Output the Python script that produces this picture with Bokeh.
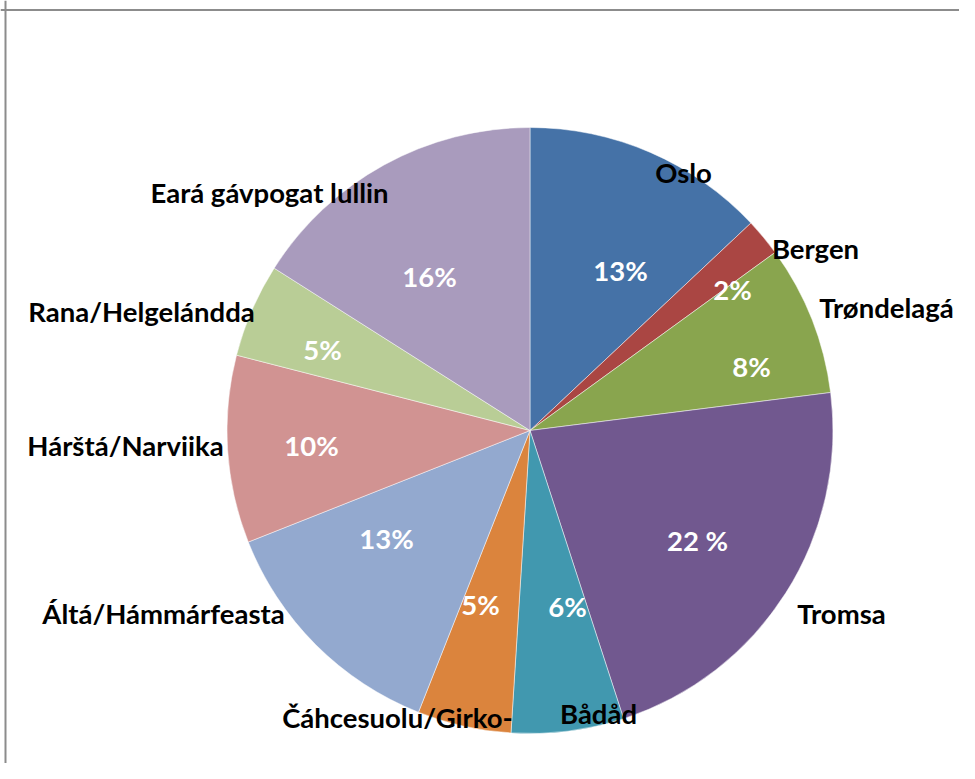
import math
from bokeh.plotting import figure
from bokeh.models import Range1d, Span, ColumnDataSource
from bokeh.core.properties import value
from bokeh.embed import file_html
from bokeh.resources import INLINE

# ---- data ----
categories = ["Oslo", "Bergen", "Trøndelagá", "Tromsa", "Bådåd",
              "Čáhcesuolu/Girko-", "Áltá/Hámmárfeasta", "Hárštá/Narviika",
              "Rana/Helgelándda", "Eará gávpogat lullin"]
shares = [13, 2, 8, 22, 6, 5, 13, 10, 5, 16]
pct_labels = ["13%", "2%", "8%", "22 %", "6%", "5%", "13%", "10%", "5%", "16%"]
colors = ["#4572A7", "#AA4643", "#89A54E", "#71588F", "#4198AF",
          "#DB843D", "#93A9CF", "#D19392", "#B9CD96", "#A99BBD"]

# ---- layout (image pixel coordinates, y downwards) ----
W, H = 959, 763
def py(y):
    return H - y

cx, cy, r = 529.5, py(430), 303
pct_pos = [(620, 270), (732, 289), (751, 366), (697, 540), (567, 606),
           (480, 604), (386, 538), (311, 445), (322, 349), (429, 276)]
cat_pos = [(683, 172), (815, 248), (886, 307), (841, 613), (598, 713),
           (397, 717), (163, 613), (125, 445), (141, 311), (269, 192)]

p = figure(width=W, height=H, output_backend="svg", toolbar_location=None,
           x_range=Range1d(0, W), y_range=Range1d(0, H),
           min_border=0, outline_line_color=None)
p.axis.visible = False
p.grid.visible = False
p.background_fill_color = "white"
p.border_fill_color = "white"

total = sum(shares)
starts, ends = [], []
acc = 0
for v in shares:
    starts.append(math.pi / 2 - 2 * math.pi * acc / total)
    acc += v
    ends.append(math.pi / 2 - 2 * math.pi * acc / total)

src = ColumnDataSource(dict(start=starts, end=ends, color=colors))
p.wedge(x=cx, y=cy, radius=r, start_angle="start", end_angle="end",
        direction="clock", fill_color="color", line_color="white",
        line_width=0.8, line_alpha=0.6, source=src)

FONT = value("Lato")
p.text(x=[q[0] for q in pct_pos], y=[py(q[1]) for q in pct_pos], text=pct_labels,
       text_color="white", text_font=FONT, text_font_style="bold",
       text_font_size="27.5px", text_align="center", text_baseline="middle")
p.text(x=[q[0] for q in cat_pos], y=[py(q[1]) for q in cat_pos], text=categories,
       text_color="black", text_font=FONT, text_font_style="bold",
       text_font_size="27.5px", text_align="center", text_baseline="middle")

# chart area frame (top and left edges visible)
p.add_layout(Span(location=py(9.5), dimension="width", line_color="#8c8c8c", line_width=2))
p.add_layout(Span(location=5, dimension="height", line_color="#8c8c8c", line_width=2))

open("out.html", "w").write(file_html(p, INLINE))
